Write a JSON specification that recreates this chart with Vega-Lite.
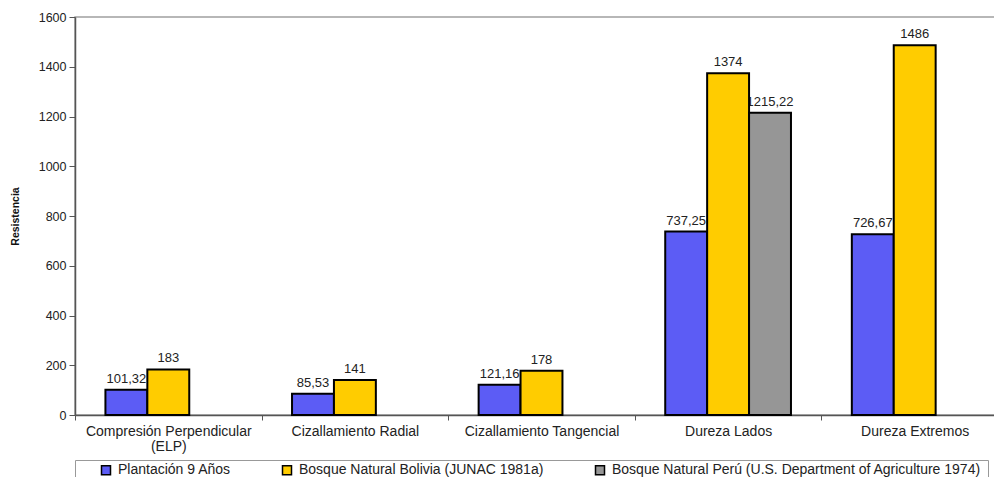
{
  "$schema": "https://vega.github.io/schema/vega-lite/v6.json",
  "autosize": {"type": "none"},
  "padding": {"left": 75, "top": 17, "right": 0, "bottom": 70},
  "width": 933,
  "height": 398,
  "config": {
    "view": {"stroke": "#a0a0a0", "strokeWidth": 1.5},
    "font": "Liberation Sans"
  },
  "data": {
    "values": [
      {"cat": "Compresión Perpendicular (ELP)", "serie": "Plantación 9 Años", "value": 101.32, "label": "101,32"},
      {"cat": "Compresión Perpendicular (ELP)", "serie": "Bosque Natural Bolivia (JUNAC 1981a)", "value": 183, "label": "183"},
      {"cat": "Cizallamiento Radial", "serie": "Plantación 9 Años", "value": 85.53, "label": "85,53"},
      {"cat": "Cizallamiento Radial", "serie": "Bosque Natural Bolivia (JUNAC 1981a)", "value": 141, "label": "141"},
      {"cat": "Cizallamiento Tangencial", "serie": "Plantación 9 Años", "value": 121.16, "label": "121,16"},
      {"cat": "Cizallamiento Tangencial", "serie": "Bosque Natural Bolivia (JUNAC 1981a)", "value": 178, "label": "178"},
      {"cat": "Dureza Lados", "serie": "Plantación 9 Años", "value": 737.25, "label": "737,25"},
      {"cat": "Dureza Lados", "serie": "Bosque Natural Bolivia (JUNAC 1981a)", "value": 1374, "label": "1374"},
      {"cat": "Dureza Lados", "serie": "Bosque Natural Perú (U.S. Department of Agriculture  1974)", "value": 1215.22, "label": "1215,22"},
      {"cat": "Dureza Extremos", "serie": "Plantación 9 Años", "value": 726.67, "label": "726,67"},
      {"cat": "Dureza Extremos", "serie": "Bosque Natural Bolivia (JUNAC 1981a)", "value": 1486, "label": "1486"}
    ]
  },
  "encoding": {
    "x": {
      "field": "cat",
      "type": "nominal",
      "sort": ["Compresión Perpendicular (ELP)", "Cizallamiento Radial", "Cizallamiento Tangencial", "Dureza Lados", "Dureza Extremos"],
      "scale": {"paddingInner": 0, "paddingOuter": 0},
      "axis": {
        "title": null,
        "labelAngle": 0,
        "labelFontSize": 14,
        "labelColor": "#222",
        "labelPadding": 4,
        "labelLineHeight": 15,
        "labelLimit": 0,
        "labelExpr": "datum.label == 'Compresión Perpendicular (ELP)' ? ['Compresión Perpendicular', '(ELP)'] : datum.label",
        "domainColor": "#555",
        "domainWidth": 1.5,
        "tickColor": "#555",
        "tickBand": "extent",
        "tickSize": 5
      }
    },
    "xOffset": {
      "field": "serie",
      "type": "nominal",
      "sort": ["Plantación 9 Años", "Bosque Natural Bolivia (JUNAC 1981a)", "Bosque Natural Perú (U.S. Department of Agriculture  1974)"],
      "scale": {"paddingInner": 0, "paddingOuter": 0.726}
    },
    "y": {
      "field": "value",
      "type": "quantitative",
      "scale": {"domain": [0, 1600], "nice": false},
      "axis": {
        "values": [0, 200, 400, 600, 800, 1000, 1200, 1400, 1600],
        "format": "d",
        "grid": false,
        "title": "Resistencia",
        "titleFontSize": 10.5,
        "titleFontWeight": "bold",
        "titleColor": "#111",
        "titleX": -55,
        "labelFontSize": 12.5,
        "labelColor": "#222",
        "labelPadding": 3,
        "tickSize": 6,
        "tickColor": "#555",
        "domainColor": "#555",
        "domainWidth": 1.5
      }
    }
  },
  "layer": [
    {
      "mark": {"type": "text", "baseline": "bottom", "dy": -4, "fontSize": 13, "color": "#222"},
      "encoding": {"text": {"field": "label"}}
    },
    {
      "mark": {"type": "bar", "stroke": "black", "strokeWidth": 2},
      "encoding": {
        "color": {
          "field": "serie",
          "type": "nominal",
          "scale": {
            "domain": ["Plantación 9 Años", "Bosque Natural Bolivia (JUNAC 1981a)", "Bosque Natural Perú (U.S. Department of Agriculture  1974)"],
            "range": ["#5c5cf5", "#ffcc00", "#969696"]
          },
          "legend": {
            "orient": "none",
            "legendX": 0,
            "legendY": 443,
            "direction": "horizontal",
            "columns": 3,
            "title": null,
            "strokeColor": "#999",
            "padding": 3,
            "symbolType": "square",
            "symbolSize": 81,
            "symbolStrokeColor": "black",
            "symbolOpacity": 1,
            "symbolOffset": 21,
            "labelFontSize": 14,
            "labelColor": "#222",
            "labelOffset": 5,
            "labelLimit": 0,
            "columnPadding": 28
          }
        }
      }
    }
  ]
}
